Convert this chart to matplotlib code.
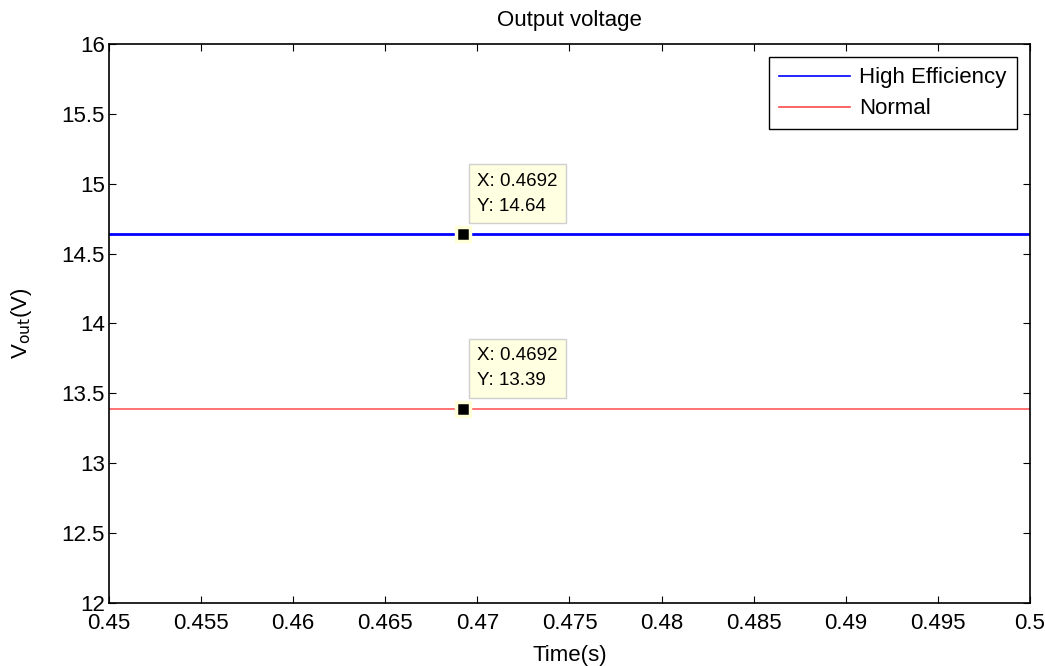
import matplotlib
matplotlib.use("Agg")
import matplotlib.pyplot as plt

plt.rcParams["font.family"] = ["Liberation Sans", "DejaVu Sans"]

# data
time_s = [0.45, 0.5]
v_high_eff = [14.64, 14.64]
v_normal = [13.39, 13.39]
tip_x = 0.4692
tip_high = 14.64
tip_normal = 13.39
x_ticks = [0.45, 0.455, 0.46, 0.465, 0.47, 0.475, 0.48, 0.485, 0.49, 0.495, 0.5]
y_ticks = [12, 12.5, 13, 13.5, 14, 14.5, 15, 15.5, 16]

fig = plt.figure(figsize=(10.45, 6.66), dpi=100)
ax = fig.add_axes([0.1043, 0.0946, 0.8813, 0.8394])

ax.plot(time_s, v_high_eff, color="#0000ff", lw=2.0, label="High Efficiency")
ax.plot(time_s, v_normal, color="#ff4a4a", lw=1.1, label="Normal")

for yv in (tip_high, tip_normal):
    ax.plot([tip_x], [yv], marker="s", ms=10, color="black",
            markeredgecolor="#ffffd8", markeredgewidth=2.5, zorder=5)
    ax.annotate(f"X: {tip_x:.4f}\nY: {yv:.2f}", xy=(tip_x, yv),
                xytext=(10.5, 14), textcoords="offset points", fontsize=13.5,
                va="bottom", ha="left", linespacing=1.6,
                bbox=dict(boxstyle="square,pad=0.45", fc="#ffffe1", ec="#cfcfcf", lw=1),
                zorder=6)

ax.set_xlim(0.45, 0.5)
ax.set_ylim(12, 16)
ax.set_xticks(x_ticks)
ax.set_xticklabels([f"{v:g}" for v in x_ticks])
ax.set_yticks(y_ticks)
ax.set_yticklabels([f"{v:g}" for v in y_ticks])
ax.tick_params(direction="in", top=True, right=True, length=5, labelsize=16)
ax.tick_params(axis="x", pad=7)
ax.tick_params(axis="y", pad=3)
for s in ax.spines.values():
    s.set_linewidth(1.2)

ax.set_title("Output voltage", fontsize=16, pad=13)
ax.set_xlabel("Time(s)", fontsize=16, labelpad=8)
ax.set_ylabel(r"V$_{\rm out}$(V)", fontsize=16, labelpad=20)

leg = ax.legend(loc="upper right", fontsize=16, fancybox=False, edgecolor="black",
                framealpha=1, handlelength=3.2, handletextpad=0.4,
                labelspacing=0.45, borderpad=0.45, borderaxespad=0.6)
leg.get_frame().set_linewidth(1.0)
for h in leg.get_lines():
    h.set_linewidth(1.2)

fig.savefig("out.png", dpi=100)
